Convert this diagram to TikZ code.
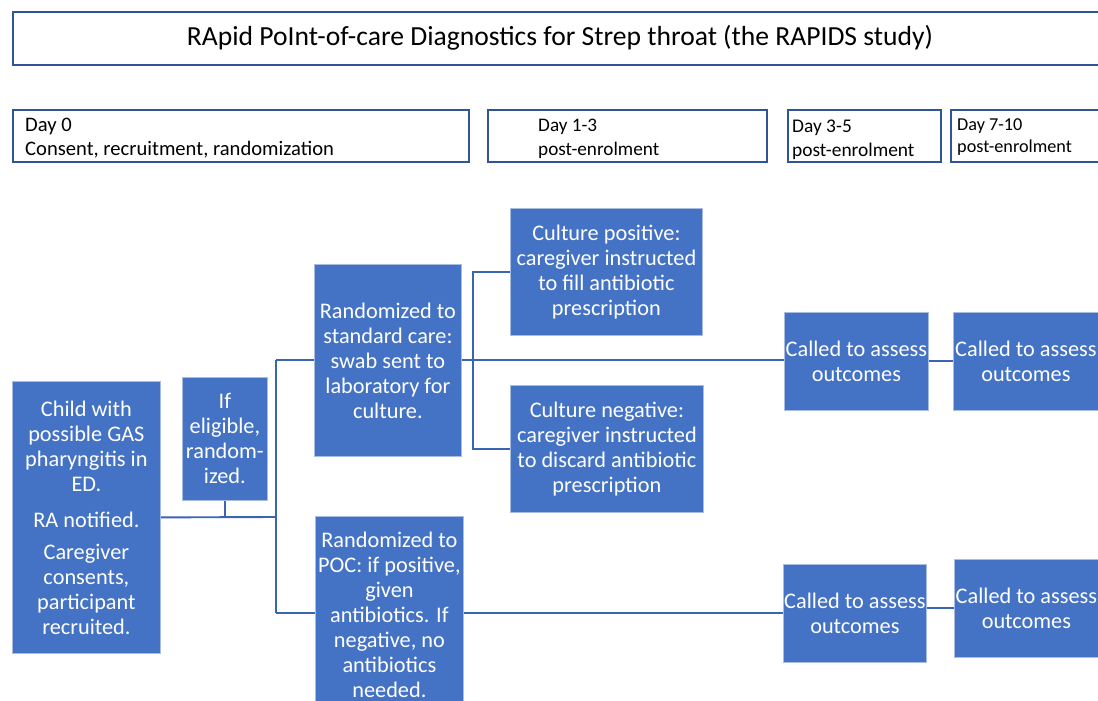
\documentclass[tikz,border=0pt]{standalone}
\usepackage{fontspec}
\setmainfont{Carlito}
\definecolor{boxblue}{HTML}{4472C4}
\definecolor{lineblue}{HTML}{2F5597}
\definecolor{connblue}{HTML}{3A65B2}
\definecolor{edgeblue}{HTML}{A9BDE3}
\begin{document}
\begin{tikzpicture}[x=1pt,y=-1pt,
  bluebox/.style={fill=boxblue, draw=edgeblue, line width=0.8pt, text=white,
    font=\fontsize{22.3}{25}\selectfont, align=center, inner sep=0pt, anchor=north west},
  hdrbox/.style={draw=lineblue, line width=1.8pt, fill=white, inner sep=0pt, anchor=north west},
  hdrtext/.style={font=\fontsize{19.2}{24}\selectfont, align=left, inner sep=0pt, anchor=west},
  conn/.style={draw=connblue, line width=1.9pt}]
\useasboundingbox (0,0) rectangle (1098,701);

% title
\node[hdrbox, minimum width=1098, minimum height=53] (tbox) at (12,11) {};
\node[font=\fontsize{27.6}{30}\selectfont, inner sep=0pt] (title) at (560,38) {RApid PoInt-of-care Diagnostics for Strep throat (the RAPIDS study)};

% header boxes
\node[hdrbox, minimum width=456, minimum height=52] (d0) at (12,109) {};
\node[hdrtext, font=\fontsize{20.6}{24}\selectfont] (d0t) at (25,138) {Day 0\\Consent, recruitment, randomization};
\node[hdrbox, minimum width=279, minimum height=52] (d1) at (487,109) {};
\node[hdrtext] (d1t) at (538,139) {Day 1-3\\post-enrolment};
\node[hdrbox, minimum width=153, minimum height=52] (d3) at (787,109) {};
\node[hdrtext, font=\fontsize{19.4}{24}\selectfont] (d3t) at (792,140) {Day 3-5\\post-enrolment};
\node[hdrbox, minimum width=160, minimum height=52] (d7) at (950,109) {};
\node[hdrtext, font=\fontsize{18.2}{22}\selectfont] (d7t) at (957,137) {Day 7-10\\post-enrolment};

% blue boxes
\node[bluebox, minimum width=148, minimum height=272] (child) at (12,381)
  {Child with\\possible GAS\\pharyngitis in\\ED.\\[11pt]RA notified.\\[7pt]Caregiver\\consents,\\participant\\recruited.};
\node[bluebox, minimum width=85, minimum height=123] (elig) at (182,377)
  {If\\eligible,\\random-\\ized.};
\node[bluebox, minimum width=147, minimum height=192] (std) at (314,264)
  {Randomized to\\standard care:\\swab sent to\\laboratory for\\culture.};
\node[bluebox, minimum width=148, minimum height=196] (poc) at (315,516)
  {Randomized to\\POC: if positive,\\given\\antibiotics. If\\negative, no\\antibiotics\\needed.};
\node[bluebox, minimum width=192, minimum height=127] (cpos) at (510,208)
  {Culture positive:\\caregiver instructed\\to fill antibiotic\\prescription};
\node[bluebox, minimum width=193, minimum height=127] (cneg) at (510,385)
  {Culture negative:\\caregiver instructed\\to discard antibiotic\\prescription};
\node[bluebox, minimum width=144, minimum height=98] (call1) at (784,312)
  {Called to assess\\outcomes};
\node[bluebox, minimum width=145, minimum height=98] (call2) at (953,312)
  {Called to assess\\outcomes};
\node[bluebox, minimum width=143, minimum height=98] (call3) at (783,564)
  {Called to assess\\outcomes};
\node[bluebox, minimum width=144, minimum height=98] (call4) at (954,559)
  {Called to assess\\outcomes};

% connectors
\coordinate (j1) at (276,517);
\coordinate (j2) at (276,360);
\coordinate (j3) at (276,613);
\coordinate (k) at (473,360);
\draw[conn] (child.east) -- (j1);
\draw[conn] (elig.south) -- (elig.south |- j1);
\draw[conn] (j2) -- (j3);
\draw[conn] (j2) -- (std.west |- j2);
\draw[conn] (j3) -- (poc.west |- j3);
\draw[conn] (std.east) -- (call1.west |- std.east);
\draw[conn] (cpos.west) -- (cpos.west -| k) -- (cneg.west -| k) -- (cneg.west);
\draw[conn] (call1.east) -- (call2.west);
\draw[conn] (poc.east |- call3.west) -- (call3.west);
\draw[conn] (call4.west -| call3.east) -- (call4.west);
\end{tikzpicture}
\end{document}
